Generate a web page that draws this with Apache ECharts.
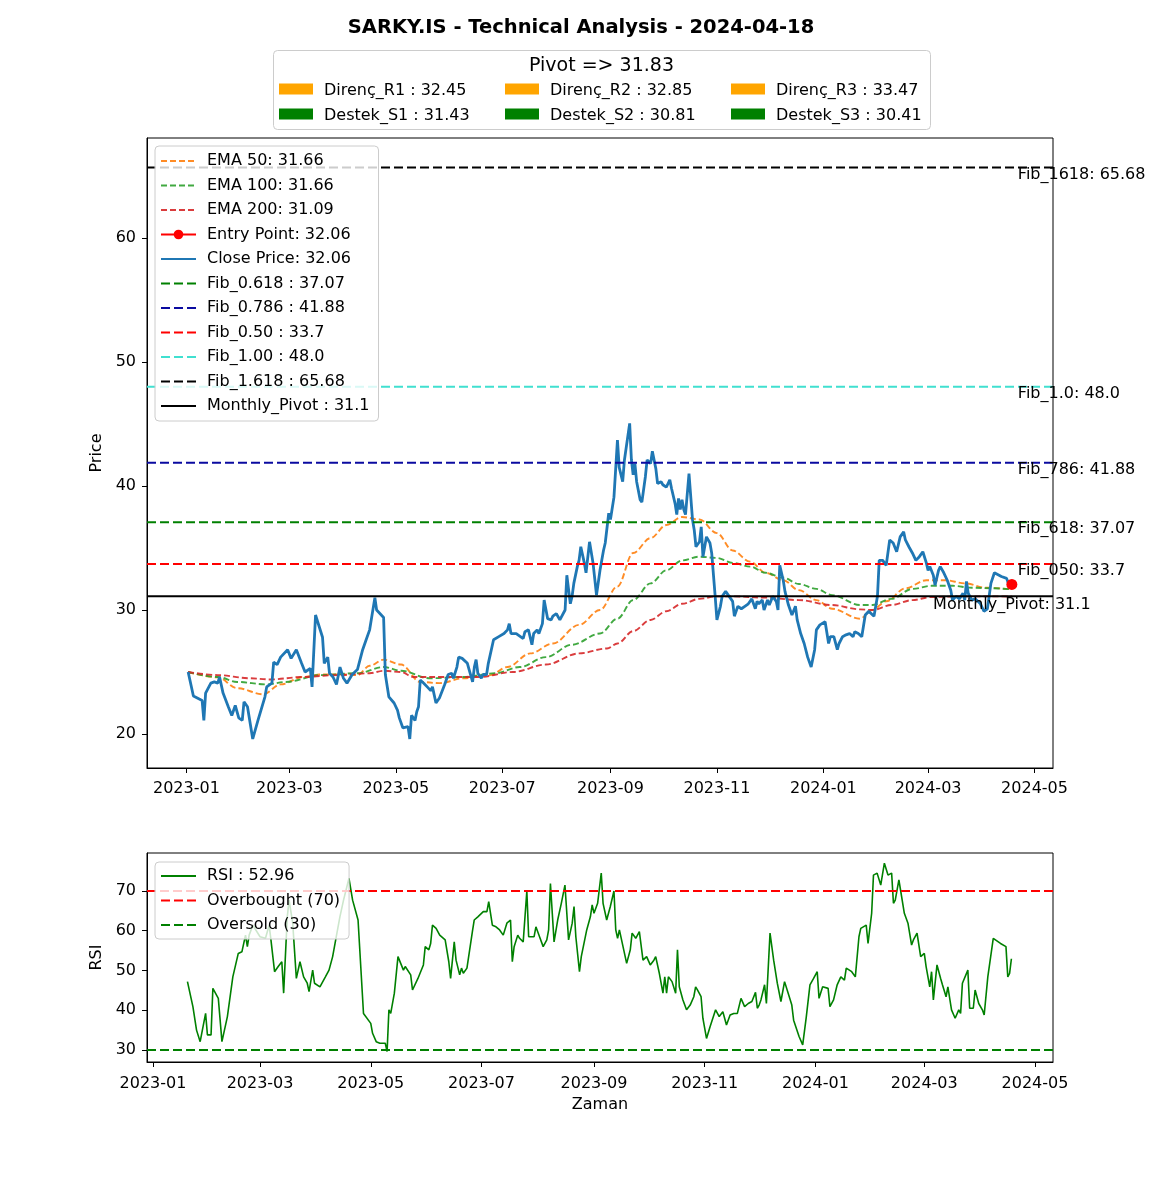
<!DOCTYPE html>
<html><head><meta charset="utf-8">
<script src="https://cdn.jsdelivr.net/npm/echarts/dist/echarts.min.js"></script>
<style>html,body{margin:0;padding:0;background:#fff}#chart{width:1170px;height:1195px}</style>
</head><body><div id="chart"></div>
<script>
// ---------- DATA ----------
const chartTitle = 'SARKY.IS - Technical Analysis - 2024-04-18';
const closeDates = [
'2023-01-02','2023-01-03','2023-01-05','2023-01-10','2023-01-11','2023-01-12','2023-01-15','2023-01-17','2023-01-19','2023-01-20',
'2023-01-22','2023-01-25','2023-01-27','2023-01-29','2023-01-31','2023-02-02','2023-02-03','2023-02-05','2023-02-08','2023-02-11',
'2023-02-15','2023-02-16','2023-02-19','2023-02-20','2023-02-22','2023-02-24','2023-02-28','2023-03-02','2023-03-05','2023-03-08',
'2023-03-10','2023-03-13','2023-03-14','2023-03-16','2023-03-20','2023-03-21','2023-03-23','2023-03-24','2023-03-26','2023-03-28',
'2023-03-30','2023-04-01','2023-04-03','2023-04-06','2023-04-09','2023-04-12','2023-04-14','2023-04-16','2023-04-19','2023-04-20',
'2023-04-24','2023-04-25','2023-04-27','2023-04-30','2023-05-02','2023-05-03','2023-05-04','2023-05-05','2023-05-06','2023-05-08',
'2023-05-09','2023-05-10','2023-05-12','2023-05-13','2023-05-14','2023-05-15','2023-05-17','2023-05-19','2023-05-21','2023-05-22',
'2023-05-24','2023-05-26','2023-05-29','2023-05-31','2023-06-02','2023-06-03','2023-06-05','2023-06-06','2023-06-08','2023-06-09',
'2023-06-11','2023-06-12','2023-06-14','2023-06-15','2023-06-16','2023-06-17','2023-06-19','2023-06-20','2023-06-22','2023-06-23',
'2023-06-26','2023-06-29','2023-07-02','2023-07-04','2023-07-05','2023-07-06','2023-07-07','2023-07-09','2023-07-11','2023-07-13',
'2023-07-14','2023-07-16','2023-07-17','2023-07-18','2023-07-19','2023-07-21','2023-07-22','2023-07-24','2023-07-25','2023-07-27',
'2023-07-29','2023-07-30','2023-08-01','2023-08-03','2023-08-04','2023-08-06','2023-08-07','2023-08-09','2023-08-10','2023-08-11',
'2023-08-13','2023-08-14','2023-08-15','2023-08-17','2023-08-18','2023-08-20','2023-08-22','2023-08-24','2023-08-26','2023-08-28',
'2023-08-29','2023-08-31','2023-09-01','2023-09-03','2023-09-05','2023-09-06','2023-09-08','2023-09-09','2023-09-12','2023-09-13',
'2023-09-14','2023-09-15','2023-09-16','2023-09-18','2023-09-19','2023-09-21','2023-09-22','2023-09-24','2023-09-25','2023-09-27',
'2023-09-28','2023-09-30','2023-10-01','2023-10-03','2023-10-05','2023-10-06','2023-10-08','2023-10-09','2023-10-10','2023-10-11',
'2023-10-12','2023-10-13','2023-10-14','2023-10-16','2023-10-18','2023-10-19','2023-10-20','2023-10-22','2023-10-23','2023-10-24',
'2023-10-26','2023-10-28','2023-10-29','2023-10-31','2023-11-01','2023-11-03','2023-11-04','2023-11-06','2023-11-08','2023-11-10',
'2023-11-11','2023-11-13','2023-11-15','2023-11-17','2023-11-19','2023-11-20','2023-11-21','2023-11-23','2023-11-24','2023-11-25',
'2023-11-27','2023-11-28','2023-11-30','2023-12-01','2023-12-03','2023-12-05','2023-12-06','2023-12-07','2023-12-09','2023-12-10',
'2023-12-12','2023-12-14','2023-12-16','2023-12-17','2023-12-19','2023-12-21','2023-12-23','2023-12-25','2023-12-27','2023-12-28',
'2023-12-30','2024-01-02','2024-01-04','2024-01-05','2024-01-07','2024-01-09','2024-01-10','2024-01-12','2024-01-14','2024-01-16',
'2024-01-18','2024-01-19','2024-01-21','2024-01-23','2024-01-25','2024-01-27','2024-01-28','2024-01-30','2024-02-01','2024-02-02',
'2024-02-04','2024-02-06','2024-02-08','2024-02-10','2024-02-11','2024-02-12','2024-02-14','2024-02-16','2024-02-17','2024-02-19',
'2024-02-21','2024-02-23','2024-02-25','2024-02-27','2024-02-29','2024-03-01','2024-03-02','2024-03-04','2024-03-05','2024-03-07',
'2024-03-08','2024-03-10','2024-03-12','2024-03-14','2024-03-15','2024-03-17','2024-03-19','2024-03-21','2024-03-22','2024-03-23',
'2024-03-24','2024-03-26','2024-03-28','2024-03-29','2024-03-31','2024-04-02','2024-04-04','2024-04-06','2024-04-08','2024-04-12',
'2024-04-15','2024-04-17','2024-04-18'];
const closeValues = [
25.0,24.35,23.06,22.7,21.1,23.3,24.1,24.2,24.1,24.6,
23.3,22.2,21.5,22.3,21.3,21.1,22.6,22.2,19.6,21.1,
23.0,23.8,24.1,25.8,25.6,26.2,26.8,26.1,26.8,25.7,
25.0,25.3,23.8,29.6,27.8,25.7,26.2,24.9,24.6,24.0,
25.4,24.5,24.1,24.8,25.2,26.8,27.6,28.4,31.0,30.0,
29.4,24.8,23.0,22.5,21.9,21.3,21.4,20.5,20.5,20.6,
19.6,21.5,21.1,21.8,22.2,24.35,24.1,23.8,23.5,23.8,
22.5,22.9,24.0,24.8,24.9,24.5,25.4,26.2,26.1,26.2,
25.7,25.2,24.2,25.4,26.0,24.9,24.5,24.8,24.8,25.7,
27.6,27.85,28.1,28.4,28.9,28.1,28.1,28.1,27.9,27.7,
28.25,28.4,28.25,27.2,28.1,28.4,28.1,28.9,30.8,29.3,
29.2,29.5,29.7,29.2,29.2,30.0,32.8,30.5,31.1,32.15,
33.5,34.0,35.1,33.8,33.0,35.5,33.8,31.2,33.2,34.8,
35.4,37.8,37.3,39.1,43.7,41.5,40.35,42.1,45.05,42.1,
40.9,41.8,40.35,38.9,38.7,40.75,42.1,41.8,42.8,41.4,
40.2,40.35,40.1,39.9,40.5,39.8,38.6,37.7,39.0,38.1,
38.9,38.1,37.7,41.0,37.3,36.45,35.1,35.5,36.7,34.3,
35.9,35.4,34.6,31.1,29.2,30.3,31.1,31.5,31.1,30.7,
29.5,30.3,30.1,30.3,30.5,30.5,30.9,30.1,30.7,30.5,
30.8,30.0,30.8,30.4,31.1,30.7,30.0,33.6,32.4,31.5,
30.4,29.6,30.3,29.2,28.1,27.3,26.2,25.4,26.8,28.4,
28.8,29.05,27.3,27.85,27.85,26.8,27.3,27.85,28.0,28.1,
27.85,28.25,28.1,27.85,29.6,29.9,30.0,29.5,31.1,34.0,
34.0,33.6,35.65,35.4,35.5,34.7,35.9,36.3,35.65,35.1,
34.6,34.0,34.3,34.7,33.8,33.2,33.5,32.8,32.0,33.2,
33.5,33.0,32.4,31.6,30.8,31.1,30.9,31.35,30.8,32.3,
31.35,30.8,30.9,30.8,30.5,29.9,30.1,32.15,33.0,32.7,
32.55,31.75,32.06];

const ema50Dates = ['2023-01-02','2023-01-19','2023-01-30','2023-02-14','2023-02-24','2023-03-09','2023-03-19','2023-03-28','2023-04-09','2023-04-16','2023-04-24','2023-05-04','2023-05-15','2023-05-26','2023-06-09','2023-06-24','2023-07-04','2023-07-17','2023-07-30','2023-08-14','2023-08-26','2023-09-05','2023-09-14','2023-09-24','2023-10-03','2023-10-12','2023-10-22','2023-11-01','2023-11-10','2023-11-20','2023-11-29','2023-12-09','2023-12-18','2023-12-28','2024-01-06','2024-01-22','2024-01-29','2024-02-06','2024-02-17','2024-02-29','2024-03-11','2024-03-22','2024-04-03','2024-04-18'];
const ema50Values = [25.0,24.57,23.7,23.2,24.0,24.6,24.8,24.8,24.75,25.5,26.0,25.6,24.2,24.1,24.5,24.75,25.4,26.5,27.3,28.8,30.0,31.9,34.6,35.8,36.85,37.5,37.3,36.2,34.8,33.9,33.0,32.4,31.6,30.8,30.1,29.3,30.0,30.7,31.75,32.4,32.4,32.15,31.8,31.66];

const ema100Dates = ['2023-01-02','2023-01-19','2023-01-30','2023-02-16','2023-02-27','2023-03-19','2023-04-09','2023-04-24','2023-05-04','2023-05-20','2023-06-09','2023-06-27','2023-07-11','2023-07-26','2023-08-10','2023-08-26','2023-09-05','2023-09-14','2023-09-24','2023-10-03','2023-10-12','2023-10-22','2023-11-01','2023-11-10','2023-11-20','2023-11-29','2023-12-09','2023-12-18','2023-12-28','2024-01-06','2024-01-22','2024-01-29','2024-02-09','2024-02-21','2024-03-03','2024-03-15','2024-03-26','2024-04-07','2024-04-18'];
const ema100Values = [25.0,24.6,24.2,24.0,24.2,24.75,24.9,25.4,25.1,24.5,24.6,24.9,25.4,26.2,27.2,28.1,29.3,30.8,32.15,33.2,34.0,34.3,34.2,33.8,33.5,33.0,32.6,32.1,31.7,31.2,30.4,30.4,30.9,31.7,31.95,31.95,31.8,31.75,31.66];

const ema200Dates = ['2023-01-02','2023-01-19','2023-02-06','2023-02-18','2023-03-09','2023-03-28','2023-04-16','2023-04-24','2023-05-04','2023-05-11','2023-05-30','2023-06-18','2023-07-07','2023-07-26','2023-08-14','2023-08-30','2023-09-05','2023-09-14','2023-09-24','2023-10-03','2023-10-12','2023-10-22','2023-11-01','2023-11-10','2023-11-29','2023-12-18','2024-01-06','2024-01-22','2024-01-29','2024-02-09','2024-02-21','2024-03-03','2024-03-22','2024-04-07','2024-04-18'];
const ema200Values = [25.0,24.75,24.5,24.4,24.6,24.75,24.9,25.1,25.0,24.6,24.6,24.6,25.0,25.6,26.5,26.9,27.3,28.3,29.2,29.9,30.5,30.9,31.1,31.1,31.0,30.8,30.4,30.05,30.0,30.4,30.8,31.05,31.1,31.1,31.09];

const rsiDates = [
'2023-01-20','2023-01-23','2023-01-25','2023-01-27','2023-01-30','2023-01-31','2023-02-02','2023-02-03','2023-02-06','2023-02-08',
'2023-02-11','2023-02-14','2023-02-17','2023-02-19','2023-02-21','2023-02-22','2023-02-23','2023-02-25','2023-03-01','2023-03-04',
'2023-03-06','2023-03-07','2023-03-09','2023-03-11','2023-03-13','2023-03-14','2023-03-16','2023-03-17','2023-03-19','2023-03-21',
'2023-03-23','2023-03-25','2023-03-27','2023-03-28','2023-03-30','2023-03-31','2023-04-03','2023-04-06','2023-04-08','2023-04-10',
'2023-04-12','2023-04-14','2023-04-16','2023-04-19','2023-04-21','2023-04-24','2023-04-27','2023-05-01','2023-05-02','2023-05-04',
'2023-05-06','2023-05-09','2023-05-10','2023-05-11','2023-05-12','2023-05-14','2023-05-16','2023-05-17','2023-05-19','2023-05-20',
'2023-05-23','2023-05-24','2023-05-27','2023-05-30','2023-05-31','2023-06-02','2023-06-03','2023-06-04','2023-06-06','2023-06-08',
'2023-06-09','2023-06-11','2023-06-13','2023-06-14','2023-06-16','2023-06-17','2023-06-19','2023-06-20','2023-06-21','2023-06-23',
'2023-06-26','2023-06-27','2023-06-29','2023-07-02','2023-07-04','2023-07-05','2023-07-07','2023-07-09','2023-07-11','2023-07-13',
'2023-07-15','2023-07-17','2023-07-18','2023-07-19','2023-07-21','2023-07-22','2023-07-24','2023-07-26','2023-07-27','2023-07-30',
'2023-07-31','2023-08-02','2023-08-04','2023-08-06','2023-08-07','2023-08-08','2023-08-10','2023-08-12','2023-08-14','2023-08-16',
'2023-08-18','2023-08-20','2023-08-21','2023-08-22','2023-08-24','2023-08-25','2023-08-28','2023-08-30','2023-08-31','2023-09-01',
'2023-09-03','2023-09-05','2023-09-06','2023-09-08','2023-09-10','2023-09-12','2023-09-13','2023-09-14','2023-09-15','2023-09-17',
'2023-09-19','2023-09-21','2023-09-22','2023-09-24','2023-09-25','2023-09-26','2023-09-28','2023-09-30','2023-10-02','2023-10-04',
'2023-10-05','2023-10-07','2023-10-09','2023-10-10','2023-10-11','2023-10-12','2023-10-14','2023-10-16','2023-10-17','2023-10-18',
'2023-10-20','2023-10-22','2023-10-24','2023-10-26','2023-10-27','2023-10-28','2023-10-30','2023-10-31','2023-11-02','2023-11-04',
'2023-11-07','2023-11-08','2023-11-09','2023-11-11','2023-11-13','2023-11-15','2023-11-17','2023-11-19','2023-11-21','2023-11-23',
'2023-11-25','2023-11-27','2023-11-29','2023-11-30','2023-12-01','2023-12-02','2023-12-04','2023-12-05','2023-12-07','2023-12-09',
'2023-12-11','2023-12-13','2023-12-15','2023-12-17','2023-12-19','2023-12-20','2023-12-21','2023-12-23','2023-12-25','2023-12-27',
'2023-12-29','2023-12-31','2024-01-02','2024-01-03','2024-01-05','2024-01-08','2024-01-09','2024-01-11','2024-01-13','2024-01-15',
'2024-01-17','2024-01-18','2024-01-21','2024-01-23','2024-01-25','2024-01-26','2024-01-29','2024-01-30','2024-02-01','2024-02-02',
'2024-02-04','2024-02-06','2024-02-07','2024-02-08','2024-02-10','2024-02-12','2024-02-13','2024-02-14','2024-02-16','2024-02-17',
'2024-02-19','2024-02-21','2024-02-23','2024-02-24','2024-02-26','2024-02-28','2024-02-29','2024-03-01','2024-03-02','2024-03-04',
'2024-03-05','2024-03-06','2024-03-08','2024-03-10','2024-03-11','2024-03-13','2024-03-14','2024-03-16','2024-03-18','2024-03-20',
'2024-03-21','2024-03-22','2024-03-25','2024-03-26','2024-03-28','2024-03-29','2024-03-31','2024-04-02','2024-04-03','2024-04-05',
'2024-04-08','2024-04-12','2024-04-15','2024-04-16','2024-04-17','2024-04-18'];
const rsiValues = [
47.2,40.9,35.0,32.1,39.2,33.8,33.8,45.5,43.0,32.1,
38.4,48.4,54.3,54.7,58.9,56.0,58.9,61.4,58.5,58.1,
61.4,57.7,49.7,51.0,52.2,44.3,63.5,67.7,61.9,48.0,
52.2,48.4,46.8,44.7,50.1,46.8,45.9,48.4,50.1,53.5,
58.5,63.5,67.7,73.2,67.7,62.7,39.2,36.7,34.2,32.1,
31.7,31.7,29.6,40.1,39.2,44.3,53.5,53.1,50.1,51.0,
48.9,45.1,48.0,51.4,56.0,55.2,56.8,61.4,60.6,58.9,
59.4,57.7,52.2,48.0,57.2,52.6,48.9,50.6,49.3,50.6,
59.8,62.7,63.5,64.8,64.8,67.3,61.4,61.0,60.2,58.9,
61.9,62.7,52.2,56.0,58.9,58.1,57.2,70.0,58.5,58.5,
61.0,58.5,56.0,57.7,60.2,71.9,57.2,62.7,66.9,71.5,
57.7,61.9,66.1,58.5,49.7,53.5,60.2,63.5,66.5,64.4,
66.9,74.5,66.9,62.7,66.1,70.0,60.2,58.1,60.2,56.0,
51.8,55.2,59.4,58.1,58.5,59.8,52.6,53.5,51.4,52.6,
53.5,49.3,44.3,48.4,44.3,48.4,47.2,44.3,55.2,45.9,
42.6,40.1,41.3,43.4,45.9,45.1,43.4,38.0,32.9,35.9,
40.1,40.1,38.4,39.6,36.3,38.8,39.2,39.2,43.0,40.9,
41.7,42.2,44.5,40.5,41.3,42.6,46.4,41.7,59.4,52.6,
46.8,42.2,47.2,44.3,41.3,37.5,37.1,33.4,31.3,38.4,
46.4,48.0,49.7,43.0,45.9,45.5,40.9,42.6,46.4,48.4,
47.6,50.6,49.7,48.4,58.5,60.6,61.4,56.8,64.4,74.0,
74.5,71.5,71.1,77.0,74.0,74.5,66.9,67.7,72.8,70.0,
64.4,61.9,56.4,57.7,59.4,53.5,53.9,54.3,51.0,45.9,
49.7,42.6,51.4,48.0,46.4,43.4,45.9,40.1,38.0,40.1,
39.2,46.8,50.1,40.5,40.5,45.1,41.7,40.1,38.8,48.4,
58.1,56.8,56.0,48.4,49.3,52.96];

const entryDate = '2024-04-18';
const entryPrice = 32.06;
const fibNames = ['Fib_0.618', 'Fib_0.786', 'Fib_0.50', 'Fib_1.00', 'Fib_1.618'];
const fibTags  = ['Fib_618', 'Fib_786', 'Fib_050', 'Fib_1.0', 'Fib_1618'];
const fibValues = [37.07, 41.88, 33.7, 48.0, 65.68];
const monthlyPivot = 31.1;
const pivotValue = 31.83;
const resistanceNames = ['Direnç_R1', 'Direnç_R2', 'Direnç_R3'];
const resistanceValues = [32.45, 32.85, 33.47];
const supportNames = ['Destek_S1', 'Destek_S2', 'Destek_S3'];
const supportValues = [31.43, 30.81, 30.41];
const rsiOverbought = 70;
const rsiOversold = 30;
const priceTicks = [20, 30, 40, 50, 60];
const rsiTicks = [30, 40, 50, 60, 70];
const dateTicks = ['2023-01-01','2023-03-01','2023-05-01','2023-07-01','2023-09-01','2023-11-01','2024-01-01','2024-03-01','2024-05-01'];

// ---------- LAYOUT / STYLE ----------
const FONT = 'DejaVu Sans';
const ts = s => {
  const [d, t] = s.split(' ');
  const [y, m, dd] = d.split('-').map(Number);
  const [h, mi] = t ? t.split(':').map(Number) : [0, 0];
  return new Date(y, m - 1, dd, h, mi).getTime();
};
const xMainMin = ts('2022-12-09 10:00'), xMainMax = ts('2024-05-11 14:00');
const xRsiMin = ts('2022-12-28 17:00'), xRsiMax = ts('2024-05-10 22:00');
const yMainMin = 17.26, yMainMax = 68.06;
const yRsiMin = 26.98, yRsiMax = 79.56;
const dateTickValues = dateTicks.map(ts);

const fmtNum = v => (Number.isInteger(v) ? v.toFixed(1) : String(v));
const zip = (a, b) => a.map((d, i) => [ts(d), b[i]]);
const fmtDate = v => { const d = new Date(v); return d.getFullYear() + '-' + String(d.getMonth() + 1).padStart(2, '0'); };

const fibColors = ['#008000', '#0a0aa0', '#ff0000', '#40e0d0', '#000000'];

const nEma50 = 'EMA 50: ' + ema50Values[ema50Values.length - 1];
const nEma100 = 'EMA 100: ' + ema100Values[ema100Values.length - 1];
const nEma200 = 'EMA 200: ' + ema200Values[ema200Values.length - 1];
const nEntry = 'Entry Point: ' + entryPrice;
const nClose = 'Close Price: ' + closeValues[closeValues.length - 1];
const nFibs = fibNames.map((n, i) => n + ' : ' + fmtNum(fibValues[i]));
const nPivot = 'Monthly_Pivot : ' + monthlyPivot;
const nRsi = 'RSI : ' + rsiValues[rsiValues.length - 1];
const nOB = 'Overbought (' + rsiOverbought + ')';
const nOS = 'Oversold (' + rsiOversold + ')';

function emaSeries(name, dates, vals, color) {
  return { name, type: 'line', xAxisIndex: 0, yAxisIndex: 0, data: zip(dates, vals),
    symbol: 'none', smooth: 0.35, smoothMonotone: 'x',
    lineStyle: { color, width: 1.9, type: [6, 3], opacity: 0.9 }, itemStyle: { color }, z: 2 };
}
function hSeries(name, v, color, solid, x0, x1, xi) {
  return { name, type: 'line', xAxisIndex: xi, yAxisIndex: xi, data: [[x0, v], [x1, v]],
    symbol: 'none', lineStyle: { color, width: 2, type: solid ? 'solid' : [9, 4] }, itemStyle: { color }, z: 3 };
}

const series = [
  emaSeries(nEma50, ema50Dates, ema50Values, '#ff7f0e'),
  emaSeries(nEma100, ema100Dates, ema100Values, '#2ca02c'),
  emaSeries(nEma200, ema200Dates, ema200Values, '#d62728'),
  { name: nEntry, type: 'line', xAxisIndex: 0, yAxisIndex: 0, data: [[ts(entryDate), entryPrice]],
    symbol: 'circle', symbolSize: 11, showSymbol: true,
    lineStyle: { color: '#ff0000', width: 2 }, itemStyle: { color: '#ff0000' }, z: 6 },
  { name: nClose, type: 'line', xAxisIndex: 0, yAxisIndex: 0, data: zip(closeDates, closeValues),
    symbol: 'none', lineStyle: { color: '#1f77b4', width: 2.8 }, itemStyle: { color: '#1f77b4' }, z: 3 },
];
fibValues.forEach((v, i) => series.push(hSeries(nFibs[i], v, fibColors[i], false, xMainMin, xMainMax, 0)));
series.push(hSeries(nPivot, monthlyPivot, '#000000', true, xMainMin, xMainMax, 0));
const labelData = fibValues.map((v, i) => ({ value: [ts(entryDate), v],
  label: { formatter: fibTags[i] + ': ' + fmtNum(v), position: [6, -1], align: 'left', verticalAlign: 'top' } }));
labelData.push({ value: [ts(entryDate), monthlyPivot],
  label: { formatter: 'Monthly_Pivot: ' + monthlyPivot, position: [0, 0], align: 'center', verticalAlign: 'top' } });
series.push({ name: 'levelLabels', type: 'scatter', xAxisIndex: 0, yAxisIndex: 0, data: labelData,
  symbolSize: 0.01, itemStyle: { color: '#000000' }, silent: true, z: 7,
  label: { show: true, color: '#000000', opacity: 1, fontSize: 16, fontFamily: FONT, textBorderWidth: 0, textShadowBlur: 0 } });
series.push({ name: nRsi, type: 'line', xAxisIndex: 1, yAxisIndex: 1, data: zip(rsiDates, rsiValues),
  symbol: 'none', lineStyle: { color: '#008000', width: 1.6 }, itemStyle: { color: '#008000' }, z: 3 });
series.push(hSeries(nOB, rsiOverbought, '#ff0000', false, xRsiMin, xRsiMax, 1));
series.push(hSeries(nOS, rsiOversold, '#008000', false, xRsiMin, xRsiMax, 1));

function legendItems(names, keepSymbol) {
  return names.map(n => keepSymbol.includes(n) ? { name: n } : { name: n, itemStyle: { opacity: 0 } });
}
const legendBase = {
  orient: 'vertical', itemWidth: 35, itemHeight: 12, itemGap: 8.5, selectedMode: false,
  backgroundColor: 'rgba(255,255,255,0.8)', borderColor: '#cccccc', borderWidth: 1, borderRadius: 4,
  textStyle: { fontSize: 16, fontFamily: FONT, color: '#000', lineHeight: 16, padding: [0, 0, 0, 6] }
};

const axisCommon = (gi) => ({
  gridIndex: gi, scale: true,
  axisLine: { show: true, onZero: false, lineStyle: { color: '#000', width: 1 } },
  splitLine: { show: false },
  minorTick: { show: false },
});

const pivotGraphic = [
  { type: 'rect', left: 273, top: 50, shape: { width: 657, height: 79, r: 4 },
    style: { fill: 'rgba(255,255,255,0.8)', stroke: '#cccccc', lineWidth: 1 }, z: 10 },
  { type: 'text', x: 601.5, y: 66, z: 11,
    style: { text: 'Pivot => ' + pivotValue, fill: '#000', fontSize: 19, fontFamily: FONT,
      align: 'center', verticalAlign: 'middle', textAlign: 'center', textVerticalAlign: 'middle' } }
];
[[resistanceNames, resistanceValues, '#ffa500', 89], [supportNames, supportValues, '#008000', 114]].forEach(([names, vals, col, ry]) => {
  names.forEach((n, i) => {
    const cx = 279 + i * 226;
    pivotGraphic.push({ type: 'rect', x: cx, y: ry - 5.5, shape: { width: 34, height: 11 }, style: { fill: col }, z: 11 });
    pivotGraphic.push({ type: 'text', x: cx + 45, y: ry + 2, z: 11,
      style: { text: n + ' : ' + vals[i], fill: '#000', fontSize: 16, fontFamily: FONT,
        align: 'left', verticalAlign: 'middle', textAlign: 'left', textVerticalAlign: 'middle' } });
  });
});

const option = {
  animation: false,
  backgroundColor: '#ffffff',
  textStyle: { fontFamily: FONT },
  title: { text: chartTitle, left: 581, top: 18, textAlign: 'center', padding: 0,
    textStyle: { fontSize: 19.5, fontWeight: 'bold', fontFamily: FONT, color: '#000' } },
  graphic: pivotGraphic,
  legend: [
    Object.assign({}, legendBase, { left: 155, top: 146, padding: [7, 9, 7, 5],
      data: legendItems([nEma50, nEma100, nEma200, nEntry, nClose, ...nFibs, nPivot], [nEntry]) }),
    Object.assign({}, legendBase, { left: 155, top: 862, padding: [6, 9, 6, 5],
      data: legendItems([nRsi, nOB, nOS], []) })
  ],
  grid: [
    { left: 147, top: 138, width: 906, height: 630, show: true, borderColor: '#000', borderWidth: 1,
      backgroundColor: 'rgba(0,0,0,0)', containLabel: false },
    { left: 147, top: 853, width: 906, height: 209, show: true, borderColor: '#000', borderWidth: 1,
      backgroundColor: 'rgba(0,0,0,0)', containLabel: false }
  ],
  xAxis: [
    Object.assign(axisCommon(0), { type: 'value', min: xMainMin, max: xMainMax,
      axisTick: { show: true, length: 5, lineStyle: { color: '#000' }, customValues: dateTickValues },
      axisLabel: { customValues: dateTickValues, formatter: fmtDate, margin: 13, color: '#000', fontSize: 16, fontFamily: FONT, hideOverlap: false } }),
    Object.assign(axisCommon(1), { type: 'value', min: xRsiMin, max: xRsiMax,
      name: 'Zaman', nameLocation: 'middle', nameGap: 35, nameTextStyle: { fontSize: 16, color: '#000', fontFamily: FONT },
      axisTick: { show: true, length: 5, lineStyle: { color: '#000' }, customValues: dateTickValues },
      axisLabel: { customValues: dateTickValues, formatter: fmtDate, margin: 14, color: '#000', fontSize: 16, fontFamily: FONT, hideOverlap: false } })
  ],
  yAxis: [
    Object.assign(axisCommon(0), { type: 'value', min: yMainMin, max: yMainMax,
      name: 'Price', nameLocation: 'middle', nameGap: 39, nameRotate: 90, nameTextStyle: { fontSize: 16, color: '#000', fontFamily: FONT },
      axisTick: { show: true, length: 5, lineStyle: { color: '#000' }, customValues: priceTicks },
      axisLabel: { customValues: priceTicks, margin: 11, color: '#000', fontSize: 16, fontFamily: FONT } }),
    Object.assign(axisCommon(1), { type: 'value', min: yRsiMin, max: yRsiMax,
      name: 'RSI', nameLocation: 'middle', nameGap: 39, nameRotate: 90, nameTextStyle: { fontSize: 16, color: '#000', fontFamily: FONT },
      axisTick: { show: true, length: 5, lineStyle: { color: '#000' }, customValues: rsiTicks },
      axisLabel: { customValues: rsiTicks, margin: 11, color: '#000', fontSize: 16, fontFamily: FONT } })
  ],
  series
};

const chart = echarts.init(document.getElementById('chart'), null, { renderer: 'canvas', width: 1170, height: 1195 });
chart.setOption(option);
</script></body></html>
